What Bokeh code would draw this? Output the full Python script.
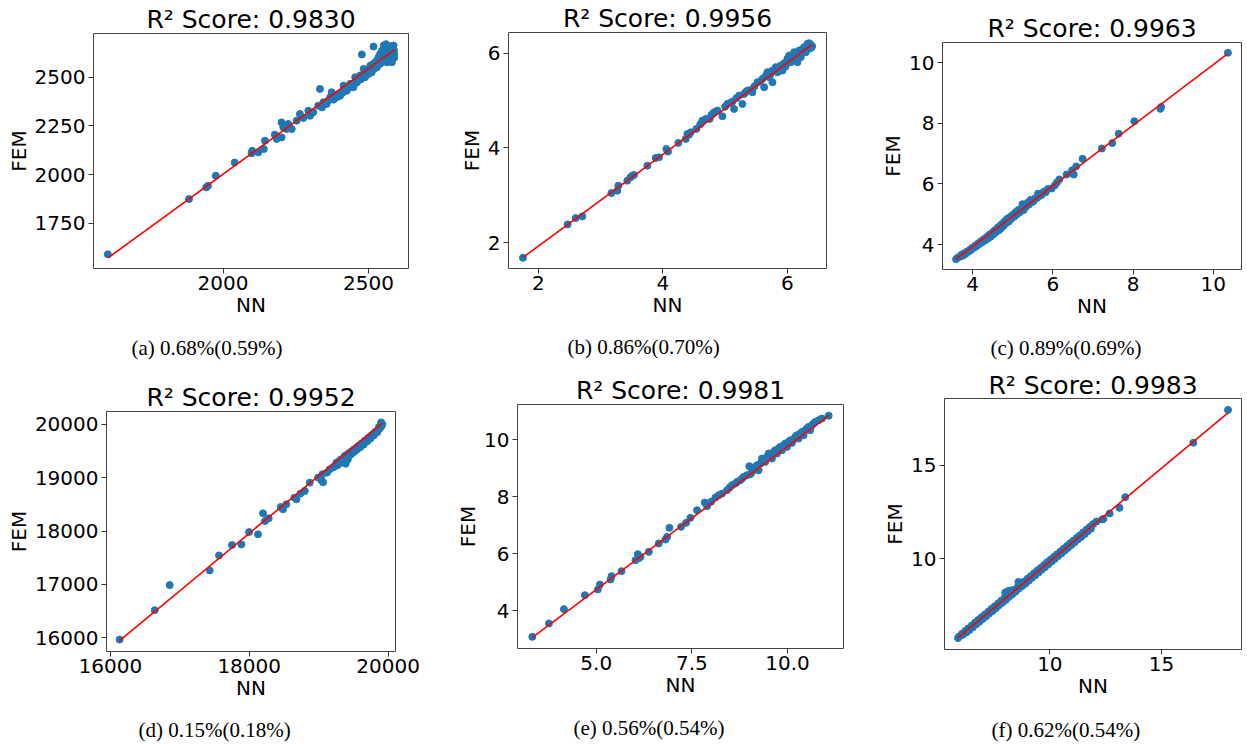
from bokeh.plotting import figure
from bokeh.models import Range1d, FixedTicker, Title
from bokeh.layouts import column, row
from bokeh.embed import file_html
from bokeh.resources import INLINE

# ---------------- data (NN, FEM) ----------------
a_points = [
    (1604, 1590), (1883, 1874), (1942, 1934), (1948, 1942), (1975, 1994), (2040, 2062),
    (2098, 2109), (2100, 2122), (2121, 2114), (2140, 2131), (2144, 2174), (2178, 2205),
    (2184, 2183), (2201, 2191), (2201, 2268), (2207, 2243), (2218, 2234), (2224, 2260),
    (2236, 2234), (2253, 2277), (2264, 2311), (2276, 2291), (2293, 2328), (2299, 2302),
    (2310, 2320), (2327, 2354), (2333, 2440), (2340, 2345), (2345, 2372), (2356, 2363),
    (2362, 2380), (2368, 2397), (2373, 2423), (2380, 2385), (2391, 2397), (2396, 2414),
    (2402, 2405), (2410, 2420), (2414, 2457), (2418, 2430), (2425, 2431), (2430, 2445),
    (2437, 2466), (2442, 2450), (2448, 2449), (2454, 2500), (2455, 2470), (2460, 2474),
    (2465, 2485), (2471, 2509), (2474, 2490), (2477, 2617), (2480, 2500), (2483, 2543),
    (2486, 2515), (2488, 2500), (2490, 2530), (2494, 2534), (2497, 2520), (2500, 2517),
    (2503, 2545), (2506, 2560), (2508, 2535), (2511, 2526), (2514, 2550), (2517, 2569),
    (2517, 2658), (2520, 2545), (2523, 2577), (2526, 2560), (2529, 2551), (2529, 2586),
    (2532, 2570), (2534, 2603), (2537, 2580), (2540, 2569), (2540, 2620), (2543, 2595),
    (2546, 2637), (2548, 2585), (2552, 2663), (2552, 2586), (2555, 2600), (2557, 2612),
    (2557, 2655), (2560, 2670), (2560, 2630), (2563, 2577), (2565, 2645), (2566, 2600),
    (2569, 2646), (2571, 2620), (2574, 2603), (2575, 2660), (2577, 2590), (2580, 2629),
    (2580, 2577), (2582, 2650), (2584, 2610), (2586, 2663), (2587, 2640), (2588, 2620),
    (2588, 2600),
]
a_fit_x = [1605, 2588]
a_fit_y = [1572, 2641]

b_points = [
    (1.754, 1.683), (2.471, 2.387), (2.600, 2.521), (2.707, 2.556), (3.173, 3.049),
    (3.269, 3.099), (3.285, 3.204), (3.430, 3.310), (3.480, 3.380), (3.510, 3.416),
    (3.537, 3.430), (3.751, 3.627), (3.885, 3.789), (3.939, 3.803), (4.056, 3.979),
    (4.083, 3.923), (4.249, 4.106), (4.367, 4.190), (4.394, 4.296), (4.420, 4.280),
    (4.447, 4.331), (4.538, 4.401), (4.600, 4.500), (4.635, 4.578), (4.688, 4.613),
    (4.752, 4.613), (4.780, 4.700), (4.822, 4.754), (4.876, 4.789), (4.956, 4.669),
    (5.000, 4.870), (5.036, 4.930), (5.080, 4.950), (5.117, 4.979), (5.143, 4.824),
    (5.180, 5.050), (5.224, 5.106), (5.277, 4.930), (5.304, 5.141), (5.330, 5.180),
    (5.358, 5.211), (5.400, 5.220), (5.438, 5.176), (5.470, 5.300), (5.518, 5.387),
    (5.560, 5.400), (5.599, 5.458), (5.626, 5.282), (5.650, 5.520), (5.679, 5.599),
    (5.706, 5.493), (5.730, 5.560), (5.759, 5.387), (5.759, 5.634), (5.790, 5.650),
    (5.813, 5.704), (5.840, 5.599), (5.870, 5.700), (5.893, 5.739), (5.920, 5.634),
    (5.950, 5.790), (5.970, 5.720), (6.000, 5.880), (6.027, 5.951), (6.054, 5.810),
    (6.080, 5.920), (6.107, 6.021), (6.134, 5.880), (6.161, 5.810), (6.188, 6.056),
    (6.214, 5.915), (6.240, 6.080), (6.268, 6.127), (6.295, 6.021), (6.322, 6.197),
    (6.348, 6.210), (6.360, 6.100), (6.375, 6.180), (6.390, 6.127), (6.395, 6.150),
]
b_fit_x = [1.755, 6.395]
b_fit_y = [1.690, 6.180]

c_points = [
    (3.585, 3.516), (3.63, 3.57), (3.68, 3.60), (3.72, 3.66), (3.75, 3.63), (3.79, 3.71),
    (3.82, 3.69), (3.86, 3.77), (3.89, 3.76), (3.93, 3.83), (3.96, 3.82), (4.00, 3.90),
    (4.03, 3.89), (4.07, 3.97), (4.10, 3.95), (4.14, 4.04), (4.17, 4.02), (4.21, 4.11),
    (4.24, 4.08), (4.28, 4.18), (4.31, 4.14), (4.35, 4.25), (4.38, 4.20), (4.42, 4.33),
    (4.45, 4.26), (4.49, 4.39), (4.52, 4.34), (4.55, 4.47), (4.58, 4.41), (4.62, 4.55),
    (4.65, 4.47), (4.68, 4.62), (4.71, 4.54), (4.74, 4.69), (4.77, 4.62), (4.80, 4.77),
    (4.83, 4.70), (4.86, 4.85), (4.90, 4.76), (4.93, 4.91), (4.96, 4.85), (5.00, 4.98),
    (5.03, 4.92), (5.07, 5.07), (5.10, 4.99), (5.14, 5.14), (5.18, 5.07), (5.22, 5.20),
    (5.24, 5.33), (5.27, 5.14), (5.30, 5.30), (5.33, 5.25), (5.37, 5.38), (5.40, 5.32),
    (5.44, 5.47), (5.48, 5.40), (5.52, 5.44), (5.55, 5.52), (5.60, 5.53), (5.63, 5.68),
    (5.66, 5.60), (5.72, 5.64), (5.77, 5.74), (5.82, 5.73), (5.87, 5.83), (5.97, 5.85),
    (6.05, 5.96), (6.10, 6.05), (6.16, 6.15), (6.34, 6.31), (6.48, 6.45), (6.52, 6.31),
    (6.58, 6.58), (6.74, 6.83), (7.22, 7.17), (7.48, 7.35), (7.64, 7.66), (8.03, 8.07),
    (8.68, 8.48), (8.70, 8.54), (10.365, 10.33),
]
c_fit_x = [3.585, 10.365]
c_fit_y = [3.520, 10.300]

d_points = [
    (16134, 15969), (16639, 16519), (16855, 16988), (17431, 17263), (17565, 17544),
    (17753, 17738), (17887, 17750), (17998, 17981), (18127, 17938), (18199, 18331),
    (18228, 18188), (18281, 18238), (18454, 18450), (18487, 18406), (18535, 18500),
    (18651, 18625), (18680, 18594), (18737, 18700), (18800, 18750), (18872, 18906),
    (18992, 19000), (19040, 18950), (19064, 18913), (19054, 19063), (19121, 19094),
    (19160, 19156), (19208, 19190), (19230, 19215), (19256, 19281), (19270, 19230),
    (19290, 19300), (19304, 19270), (19320, 19340), (19330, 19300), (19352, 19355),
    (19360, 19310), (19370, 19280), (19376, 19406), (19385, 19330), (19390, 19260),
    (19400, 19420), (19410, 19380), (19420, 19340), (19430, 19450), (19448, 19420),
    (19460, 19480), (19470, 19440), (19485, 19500), (19496, 19470), (19510, 19530),
    (19525, 19500), (19544, 19560), (19555, 19530), (19570, 19590), (19592, 19600),
    (19600, 19570), (19620, 19640), (19640, 19650), (19650, 19620), (19665, 19690),
    (19688, 19700), (19700, 19680), (19715, 19740), (19736, 19760), (19745, 19730),
    (19760, 19790), (19784, 19810), (19795, 19790), (19810, 19850), (19832, 19870),
    (19845, 19850), (19860, 19900), (19870, 19950), (19880, 19920), (19890, 19980),
    (19900, 20033), (19905, 19960), (19918, 20000),
]
d_fit_x = [16134, 19918]
d_fit_y = [15950, 20020]

e_points = [
    (3.330, 3.091), (3.765, 3.558), (4.156, 4.060), (4.704, 4.550), (5.043, 4.749),
    (5.096, 4.924), (5.374, 5.099), (5.400, 5.216), (5.661, 5.391), (6.026, 5.775),
    (6.087, 5.986), (6.157, 5.892), (6.120, 5.850), (6.374, 6.067), (6.635, 6.359),
    (6.809, 6.499), (6.852, 6.592), (6.913, 6.908), (7.217, 6.943), (7.348, 7.083),
    (7.461, 7.258), (7.635, 7.526), (7.835, 7.794), (7.896, 7.666), (8.000, 7.818),
    (8.113, 7.969), (8.200, 8.051), (8.287, 8.109), (8.418, 8.226), (8.487, 8.320),
    (8.548, 8.401), (8.635, 8.460), (8.678, 8.518), (8.765, 8.576), (8.809, 8.635),
    (8.852, 8.693), (8.939, 8.751), (9.000, 9.066), (9.026, 8.786), (9.070, 8.868),
    (9.113, 8.985), (9.157, 9.043), (9.200, 9.101), (9.243, 8.926), (9.287, 9.160),
    (9.330, 9.335), (9.374, 9.276), (9.417, 9.218), (9.461, 9.393), (9.504, 9.510),
    (9.548, 9.451), (9.591, 9.335), (9.635, 9.568), (9.678, 9.627), (9.722, 9.510),
    (9.765, 9.685), (9.809, 9.743), (9.852, 9.627), (9.896, 9.802), (9.939, 9.860),
    (9.983, 9.743), (10.026, 9.918), (10.070, 9.977), (10.113, 9.883), (10.157, 10.000),
    (10.200, 10.093), (10.243, 10.152), (10.287, 10.035), (10.330, 10.210), (10.374, 10.268),
    (10.417, 10.152), (10.461, 10.327), (10.504, 10.385), (10.548, 10.443), (10.591, 10.327),
    (10.635, 10.502), (10.678, 10.560), (10.722, 10.618), (10.809, 10.677), (10.896, 10.735),
    (11.074, 10.837),
]
e_fit_x = [3.335, 11.074]
e_fit_y = [3.071, 10.840]

f_points = [
    (5.884, 5.77), (5.93, 5.85), (6.06, 6.00), (6.10, 5.95), (6.21, 6.15), (6.25, 6.07),
    (6.35, 6.29), (6.40, 6.20), (6.50, 6.44), (6.55, 6.35), (6.65, 6.60), (6.69, 6.50),
    (6.79, 6.74), (6.84, 6.64), (6.94, 6.89), (6.99, 6.79), (7.09, 7.03), (7.14, 6.93),
    (7.24, 7.18), (7.28, 7.08), (7.38, 7.33), (7.43, 7.22), (7.53, 7.47), (7.58, 7.37),
    (7.68, 7.62), (7.72, 7.52), (7.82, 7.77), (7.87, 7.66), (7.97, 7.92), (8.00, 8.20),
    (8.02, 7.80), (8.12, 8.06), (8.12, 8.28), (8.16, 7.96), (8.26, 8.21), (8.26, 8.32),
    (8.31, 8.10), (8.41, 8.35), (8.46, 8.25), (8.56, 8.50), (8.59, 8.77), (8.60, 8.40),
    (8.71, 8.64), (8.75, 8.54), (8.85, 8.79), (8.90, 8.68), (9.00, 8.94), (9.05, 8.83),
    (9.15, 9.08), (9.19, 8.98), (9.29, 9.23), (9.34, 9.12), (9.44, 9.38), (9.49, 9.27),
    (9.59, 9.52), (9.63, 9.42), (9.74, 9.67), (9.78, 9.56), (9.88, 9.82), (9.93, 9.71),
    (10.03, 9.96), (10.08, 9.86), (10.18, 10.11), (10.22, 10.00), (10.32, 10.25),
    (10.37, 10.15), (10.47, 10.40), (10.52, 10.30), (10.62, 10.55), (10.66, 10.44),
    (10.77, 10.69), (10.81, 10.59), (10.91, 10.84), (10.96, 10.74), (11.06, 10.98),
    (11.10, 10.88), (11.21, 11.13), (11.25, 11.03), (11.35, 11.27), (11.40, 11.17),
    (11.50, 11.42), (11.55, 11.32), (11.65, 11.57), (11.69, 11.47), (11.79, 11.71),
    (11.84, 11.61), (11.94, 11.86), (12.09, 12.00), (12.35, 12.11), (12.40, 12.14),
    (12.68, 12.43), (13.12, 12.73), (13.38, 13.30), (16.43, 16.21), (17.983, 17.962),
]
f_fit_x = [5.884, 17.983]
f_fit_y = [5.790, 17.800]

x_ticks = [[2000, 2500], [2, 4, 6], [4, 6, 8, 10], [16000, 18000, 20000], [5.0, 7.5, 10.0], [10, 15]]
x_tick_labels = [["2000", "2500"], ["2", "4", "6"], ["4", "6", "8", "10"],
                 ["16000", "18000", "20000"], ["5.0", "7.5", "10.0"], ["10", "15"]]
y_ticks = [[1750, 2000, 2250, 2500], [2, 4, 6], [4, 6, 8, 10],
           [16000, 17000, 18000, 19000, 20000], [4, 6, 8, 10], [10, 15]]
y_tick_labels = [["1750", "2000", "2250", "2500"], ["2", "4", "6"], ["4", "6", "8", "10"],
                 ["16000", "17000", "18000", "19000", "20000"], ["4", "6", "8", "10"], ["10", "15"]]
scores = ["0.9830", "0.9956", "0.9963", "0.9952", "0.9981", "0.9983"]
captions = ["(a) 0.68%(0.59%)", "(b) 0.86%(0.70%)", "(c) 0.89%(0.69%)",
            "(d) 0.15%(0.18%)", "(e) 0.56%(0.54%)", "(f) 0.62%(0.54%)"]
x_label = "NN"
y_label = "FEM"

# ---------------- layout geometry (pixels; page has no margin) ----------------
ROW_H = [370, 374]
# w: figure width, l/r/t: borders, fh: frame height,
# co: caption offset from frame left, sp: gap between x axis block and caption
geo = [
    dict(w=440, l=93, r=32, t=33, fh=235, co=38, sp=10.8),
    dict(w=438, l=68, r=52, t=32, fh=236, co=59, sp=9.6),
    dict(w=367, l=58, r=4, t=42, fh=227, co=48, sp=9.5),
    dict(w=440, l=106, r=45, t=41, fh=240, co=32, sp=9.6),
    dict(w=440, l=77, r=37, t=34, fh=244, co=56, sp=11.2),
    dict(w=365, l=59, r=4, t=28, fh=251, co=47, sp=11.4),
]

SANS = "DejaVu Sans"
SERIF = "Liberation Serif"


def make_panel(points, fit_x, fit_y, xt, xtl, yt, ytl, score, caption, g, row_h):
    nn = [p[0] for p in points]
    fem = [p[1] for p in points]
    xs = nn + fit_x
    ys = fem + fit_y
    x0, x1 = min(xs), max(xs)
    y0, y1 = min(ys), max(ys)
    mx = 0.05 * (x1 - x0)
    my = 0.05 * (y1 - y0)
    bottom = row_h - g["t"] - g["fh"]
    p = figure(width=g["w"], height=row_h,
               x_range=Range1d(x0 - mx, x1 + mx), y_range=Range1d(y0 - my, y1 + my),
               output_backend="svg", toolbar_location=None,
               min_border_left=g["l"], min_border_right=g["r"],
               min_border_top=g["t"], min_border_bottom=bottom)
    try:
        p.frame_align = False
    except Exception:
        pass
    p.grid.visible = False
    p.background_fill_color = "white"
    p.border_fill_color = "white"
    p.outline_line_color = "#444444"
    p.outline_line_width = 1

    p.scatter(nn, fem, size=7, fill_color="#1f77b4", line_color="#1f77b4")
    p.line(fit_x, fit_y, line_color="#ff0000", line_width=1.6)

    for ax in (p.xaxis[0], p.yaxis[0]):
        ax.axis_line_color = None
        ax.major_tick_line_color = "#333333"
        ax.major_tick_line_width = 1
        ax.major_tick_out = 5
        ax.major_tick_in = 0
        ax.minor_tick_line_color = None
        ax.major_label_text_font = SANS
        ax.major_label_text_font_size = "20px"
        ax.major_label_text_color = "black"
        ax.axis_label_text_font = SANS
        ax.axis_label_text_font_size = "20px"
        ax.axis_label_text_font_style = "normal"
        ax.axis_label_text_color = "black"

    p.xaxis.ticker = FixedTicker(ticks=xt)
    p.xaxis.major_label_overrides = {t: s for t, s in zip(xt, xtl)}
    p.yaxis.ticker = FixedTicker(ticks=yt)
    p.yaxis.major_label_overrides = {t: s for t, s in zip(yt, ytl)}
    p.xaxis.axis_label = x_label
    p.yaxis.axis_label = y_label
    p.xaxis.major_label_standoff = 2
    p.xaxis.axis_label_standoff = 0
    p.yaxis.major_label_standoff = 3
    p.yaxis.axis_label_standoff = 1

    # title above the frame
    p.title.text = "R\u00b2 Score: " + score
    p.title.align = "center"
    p.title.vertical_align = "bottom"
    p.title.text_font = SANS
    p.title.text_font_size = "25px"
    p.title.text_font_style = "normal"
    p.title.text_color = "black"
    p.title.standoff = min(0, g["t"] - 31)

    # small spacer, then the caption below the x axis
    spacer = Title(text=" ", align="left", standoff=g["sp"], text_font_size="1px")
    p.add_layout(spacer, "below")
    cap = Title(text=caption, align="left", offset=g["co"], vertical_align="bottom",
                standoff=0, text_font=SERIF, text_font_size="21px", text_font_style="normal",
                text_color="black")
    p.add_layout(cap, "below")
    return p


all_points = [a_points, b_points, c_points, d_points, e_points, f_points]
all_fx = [a_fit_x, b_fit_x, c_fit_x, d_fit_x, e_fit_x, f_fit_x]
all_fy = [a_fit_y, b_fit_y, c_fit_y, d_fit_y, e_fit_y, f_fit_y]

panels = [make_panel(all_points[i], all_fx[i], all_fy[i], x_ticks[i], x_tick_labels[i],
                     y_ticks[i], y_tick_labels[i], scores[i], captions[i], geo[i], ROW_H[i // 3])
          for i in range(6)]

layout = column(row(panels[0], panels[1], panels[2], spacing=0),
                row(panels[3], panels[4], panels[5], spacing=0), spacing=0)

open("out.html", "w").write(file_html(layout, INLINE))
